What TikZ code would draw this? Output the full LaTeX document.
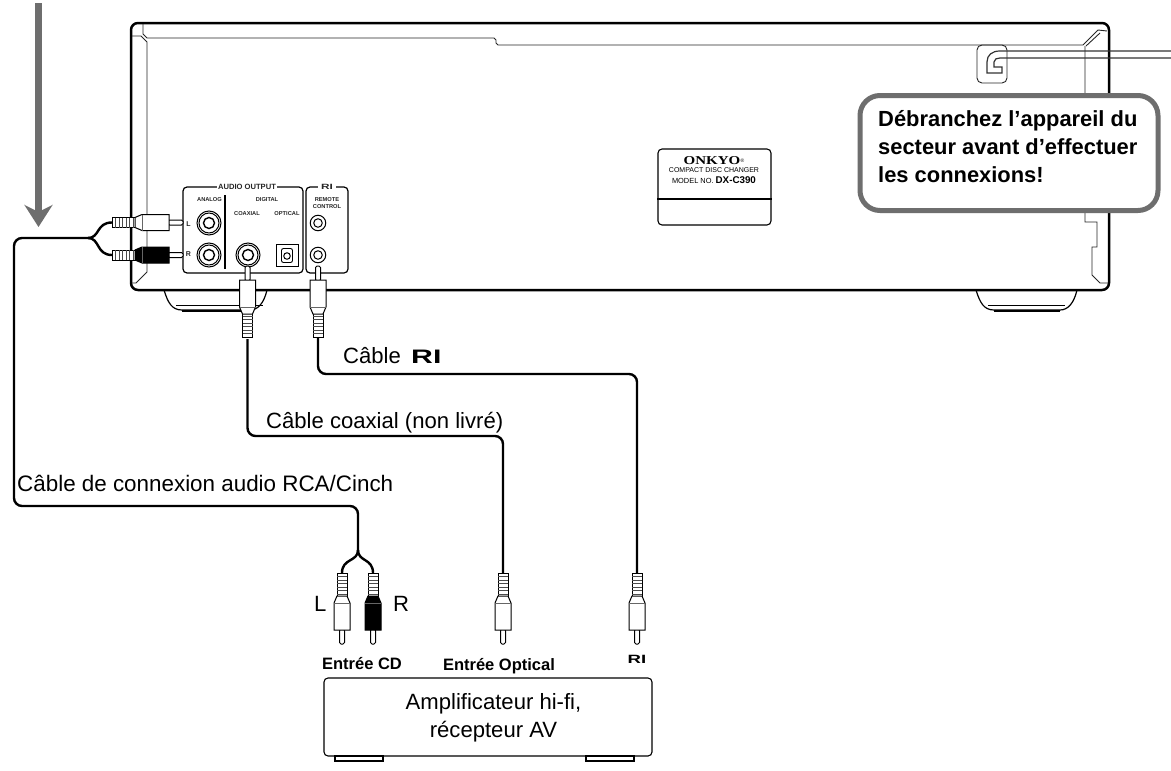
\documentclass[tikz,border=0pt]{standalone}
\usepackage{fontspec}
\usepackage{tikz}
\usetikzlibrary{arrows.meta}
\setmainfont{Liberation Sans}
\newfontfamily\plateserif{Liberation Serif}
\definecolor{warngray}{RGB}{110,110,110}
\newcommand{\rilogo}{\scalebox{1.55}[1]{\bfseries RI}}
\tikzset{
	chassis/.style={line width=2.5pt,rounded corners=7pt},
	trim/.style={line width=0.9pt,black!85},
	cable/.style={line width=2.4pt,rounded corners=8pt},
	branch/.style={line width=2.4pt},
	panel/.style={line width=1.2pt,rounded corners=4pt,fill=white},
	jack/.style={shape=circle,draw=black,line width=1pt,inner sep=0pt},
	tiny/.style={font=\fontsize{5.7}{6.7}\selectfont\bfseries,black!85,inner sep=0pt,align=center},
	panelhead/.style={font=\fontsize{7.6}{8.6}\selectfont\bfseries,black!85,inner sep=0pt,fill=white},
	label/.style={font=\fontsize{22.1}{26}\selectfont,inner sep=0pt,anchor=base west},
	inputlabel/.style={font=\fontsize{16.5}{19}\selectfont\bfseries,inner sep=0pt,anchor=base},
	pics/rcaplug/.style={code={
		\draw[line width=1pt,fill=white,rounded corners=1.5pt] (-2.5,0) rectangle (2.5,15);
		\draw[line width=1pt,fill=white] (-5,47) rectangle (5,71);
		\foreach \s in {50,53.5,...,70} {\draw[line width=0.9pt,black!70] (-5,\s) -- (5,\s);}
		\draw[line width=1pt,fill=#1] (-8,14) -- (8,14) -- (8,41) -- (5,48) -- (-5,48) -- (-8,41) -- cycle;
		\draw[line width=0.9pt,black!60] (-8,41) -- (8,41);
	}},
}
\begin{document}
\begin{tikzpicture}[x=1pt,y=-1pt]
	\useasboundingbox (0,0) rectangle (1171,771);

	\coordinate (arrowtop) at (38.5,3);
	\coordinate (arrowtip) at (38.5,227);
	\draw[warngray,line width=6.5pt,-{Stealth[length=22pt,width=28pt,inset=7pt]}] (arrowtop) -- (arrowtip);

	\draw[line width=1.2pt] (164,290) .. controls (168,303) and (172,310) .. (182,310) -- (250,310) .. controls (258,310) and (264,303) .. (267,290);
	\draw[line width=0.9pt] (176,305) -- (263,305);
	\draw[line width=1.2pt] (976,290) .. controls (980,303) and (984,310) .. (994,310) -- (1060,310) .. controls (1068,310) and (1074,303) .. (1077,290);
	\draw[line width=0.9pt] (988,305) -- (1065,305);
	\draw[line width=2.4pt] (182,311) -- (250,311);
	\draw[line width=2.4pt] (994,311) -- (1060,311);

	\draw[chassis,fill=white] (131,23) rectangle (1109,290);
	\draw[trim] (143,24) -- (143,34) -- (147,38) -- (494,38) -- (496,40) -- (496,43) -- (498,45) -- (1083,45) -- (1098,30) -- (1107,31);
	\draw[trim] (1086,46) -- (1100,33);
	\draw[trim] (132,36) -- (141,36) -- (147,42) -- (147,272) -- (136,283) -- (132,283);
	\draw[trim] (1085,46) -- (1085,222) -- (1097,222) -- (1097,247) -- (1092,247) -- (1092,275) -- (1100,283) -- (1108,283);

	\node[draw=black,trim,rounded corners=5pt,minimum width=30pt,minimum height=38pt,inner sep=0pt] (cordclip) at (992,64) {};
	\draw[line width=1.2pt,black!80] (1171,51) -- (1000,51) .. controls (992,51) and (987,55) .. (987,62) -- (987,73) -- (1002,73) -- (1002,67) -- (994,67) -- (994,62) .. controls (994,59) and (997,58) .. (1000,58) -- (1171,58);

	\node[draw=black,line width=1.1pt,rounded corners=4pt,minimum width=113pt,minimum height=76pt,inner sep=0pt] (plate) at (714.5,187) {};
	\draw[line width=1.1pt] (plate.west |- 0,199) -- (plate.east |- 0,199);
	\node[inner sep=0pt,font=\fontsize{12}{13}\selectfont\plateserif\bfseries] (onkyo) at (712,160.5) {\scalebox{1.25}[1]{ONKYO}};
	\node[inner sep=0pt,font=\fontsize{5}{6}\selectfont,anchor=west] (onkyoreg) at (onkyo.east) {®};
	\node[inner sep=0pt,font=\fontsize{7}{8}\selectfont] (platedisc) at (714,170) {COMPACT DISC CHANGER};
	\node[inner sep=0pt,font=\fontsize{7.4}{8}\selectfont] (platemodel) at (714,180.5) {MODEL NO. \textbf{\fontsize{9.8}{10}\selectfont DX-C390}};

	\draw[panel] (183,187) rectangle (303,273);
	\draw[panel] (306,187) rectangle (348,273);
	\node[panelhead,inner xsep=1.5pt] (audiotitle) at (247,187) {AUDIO OUTPUT};
	\node[panelhead,inner xsep=3pt] (rititle) at (327,187) {\rilogo};
	\node[tiny] (analog) at (209.5,200) {ANALOG};
	\node[tiny] (digital) at (267,200) {DIGITAL};
	\node[tiny] (coaxial) at (247,214) {COAXIAL};
	\node[tiny] (optical) at (287,214) {OPTICAL};
	\node[tiny] (remote) at (327,203) {REMOTE\\[-0.5pt]CONTROL};
	\node[tiny,font=\fontsize{7}{8}\selectfont\bfseries] (jackLname) at (188.5,224) {L};
	\node[tiny,font=\fontsize{7}{8}\selectfont\bfseries] (jackRname) at (188.5,254) {R};
	\draw[line width=2pt] (225,195) -- (225,269);

	\foreach \jname/\jx/\jy in {analogL/209/223,analogR/209/255,coax/248/255} {
		\node[jack,minimum size=24pt] (\jname) at (\jx,\jy) {};
		\node[jack,minimum size=20pt] at (\jx,\jy) {};
		\node[jack,minimum size=11pt,line width=1.4pt] at (\jx,\jy) {};
	}
	\foreach \jname/\jx/\jy in {remoteA/318/223,remoteB/318/255} {
		\node[jack,minimum size=15.5pt] (\jname) at (\jx,\jy) {};
		\node[jack,minimum size=8.5pt] at (\jx,\jy) {};
	}
	\node[draw=black,line width=0.9pt,minimum size=22pt,inner sep=0pt] (opticalport) at (287,255.5) {};
	\node[draw=black,line width=0.9pt,rounded corners=2pt,minimum width=11pt,minimum height=14pt,inner sep=0pt] at (287,255.5) {};
	\node[jack,minimum size=6.5pt] at (287,256) {};

	\coordinate (tailL) at (112,222.5);
	\coordinate (tailR) at (112,255);
	\coordinate (splitleft) at (88,238);
	\coordinate (cornerA) at (14,238);
	\coordinate (cornerB) at (14,506);
	\coordinate (cornerC) at (358,506);
	\coordinate (splitamp) at (358,550);
	\coordinate (tailampL) at (342,573);
	\coordinate (tailampR) at (373,573);
	\coordinate (tailcoax) at (247.5,339);
	\coordinate (cornercoaxA) at (247.5,436);
	\coordinate (cornercoaxB) at (503,436);
	\coordinate (tailoptical) at (503,573);
	\coordinate (tailri) at (318,337);
	\coordinate (cornerriA) at (318,374);
	\coordinate (cornerriB) at (637,374);
	\coordinate (tailamp) at (637,573);

	\draw[cable] (splitleft) -- (cornerA) -- (cornerB) -- (cornerC) -- (splitamp);
	\draw[branch] (tailL) .. controls (96,222.5) and (100,238) .. (splitleft);
	\draw[branch] (tailR) .. controls (96,255) and (100,238) .. (splitleft);
	\draw[branch] (tailampL) .. controls (342,558) and (358,562) .. (splitamp);
	\draw[branch] (tailampR) .. controls (373,558) and (358,562) .. (splitamp);
	\draw[cable] (tailcoax) -- (cornercoaxA) -- (cornercoaxB) -- (tailoptical);
	\draw[cable] (tailri) -- (cornerriA) -- (cornerriB) -- (tailamp);

	\pic[rotate=-90] at (183,222.5) {rcaplug=white};
	\pic[rotate=-90] at (183,255) {rcaplug=black};
	\pic at (247.5,266) {rcaplug=white};
	\pic at (318,266) {rcaplug=white};
	\pic[rotate=180] at (342,644) {rcaplug=white};
	\pic[rotate=180] at (373,644) {rcaplug=black};
	\pic[rotate=180] at (503,644) {rcaplug=white};
	\pic[rotate=180] at (637,644) {rcaplug=white};

	\node[draw=warngray,line width=5pt,rounded corners=20pt,fill=white,minimum width=298pt,minimum height=115pt,inner sep=0pt] (callout) at (1009,153) {};
	\node[inner sep=0pt,anchor=base west,align=left,font=\fontsize{21.9}{28}\selectfont\bfseries] (callouttext) at (878,182) {Débranchez l’appareil du\\secteur avant d’effectuer\\les connexions!};

	\node[label] (ricable) at (343,363) {Câble};
	\node[label,font=\fontsize{19.5}{23}\selectfont] (rilogo) at (411,363) {\rilogo};
	\node[label] (coaxcable) at (266,428) {Câble coaxial (non livré)};
	\node[label,font=\fontsize{22.4}{26}\selectfont] (audiocable) at (17,491) {Câble de connexion audio RCA/Cinch};
	\node[label] (sideL) at (314,611) {L};
	\node[label] (sideR) at (393,611) {R};
	\node[inputlabel] (inputcd) at (362,669) {Entrée CD};
	\node[inputlabel] (inputoptical) at (499,670) {Entrée Optical};
	\node[inputlabel,font=\fontsize{12}{14}\selectfont] (inputri) at (637,663) {\rilogo};

	\node[draw=black,line width=1.1pt,rounded corners=4pt,minimum width=328pt,minimum height=78pt,inner sep=0pt] (amp) at (488,717) {};
	\node[align=center,font=\fontsize{22.1}{28}\selectfont,inner sep=0pt] (amptext) at (493.5,717.5) {Amplificateur hi-fi,\\récepteur AV};
	\draw[line width=1.2pt,fill=white] (335,756) rectangle (383,761);
	\draw[line width=1.2pt,fill=white] (586,756) rectangle (634,761);
\end{tikzpicture}
\end{document}
